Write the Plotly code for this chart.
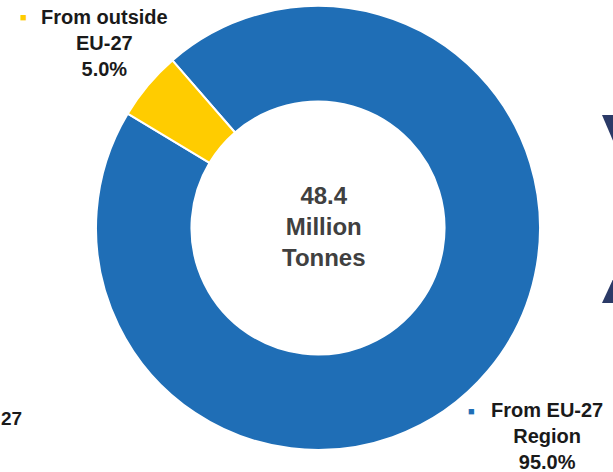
import plotly.graph_objects as go

# Origin of supply, share of total tonnage
categories = ["From EU-27 Region", "From outside EU-27"]
label_lines = ["From EU-27<br>Region", "From outside<br>EU-27"]
shares = [95.0, 5.0]
total_mt = 48.4
colors = ["#1F6EB6", "#FFCC00"]

W, H = 613, 472


def px(x):
    return x / W


def py(y):
    return 1 - y / H


fig = go.Figure(
    go.Pie(
        labels=categories,
        values=shares,
        sort=False,
        direction="clockwise",
        rotation=-41,
        hole=0.57,
        textinfo="none",
        hoverinfo="label+percent",
        marker=dict(colors=colors, line=dict(color="white", width=2)),
        domain=dict(x=[px(318 - 222), px(318 + 222)], y=[py(228 + 222), py(228 - 222)]),
        showlegend=False,
    )
)

label_font = dict(family="Liberation Sans, Arial, sans-serif", size=20, color="#1a1a1a")
annotations = [
    # centre total
    dict(
        x=px(324), y=py(226),
        text=f"<b>{total_mt:.1f}<br>Million<br>Tonnes</b>",
        font=dict(family="Liberation Sans, Arial, sans-serif", size=24, color="#404040"),
    ),
    # outside EU-27 label
    dict(
        x=px(104), y=py(43),
        text=f"<b>{label_lines[1]}<br>{shares[1]:.1f}%</b>",
        font=label_font,
    ),
    dict(x=px(24), y=py(16), text="■", font=dict(size=11, color=colors[1])),
    # EU-27 label
    dict(
        x=px(547), y=py(436),
        text=f"<b>{label_lines[0]}<br>{shares[0]:.1f}%</b>",
        font=label_font,
    ),
    dict(x=px(471), y=py(410), text="■", font=dict(size=11, color=colors[0])),
    # neighbouring label cut at the left edge
    dict(
        x=px(24), y=py(418), xanchor="right",
        text="<b>27</b>",
        font=dict(family="Liberation Sans, Arial, sans-serif", size=19, color="#1a1a1a"),
    ),
]
for a in annotations:
    a.setdefault("xanchor", "center")
    a.update(xref="paper", yref="paper", yanchor="middle", showarrow=False, align="center")

navy = "#2B3A67"
shapes = [
    dict(type="path", xref="paper", yref="paper",
         path=f"M {px(602)} {py(115)} L {px(614)} {py(115)} L {px(614)} {py(143)} Z",
         fillcolor=navy, line=dict(width=0)),
    dict(type="path", xref="paper", yref="paper",
         path=f"M {px(614)} {py(277)} L {px(602)} {py(303)} L {px(614)} {py(303)} Z",
         fillcolor=navy, line=dict(width=0)),
]

fig.update_layout(
    width=W, height=H,
    margin=dict(l=0, r=0, t=0, b=0),
    paper_bgcolor="white",
    plot_bgcolor="white",
    annotations=annotations,
    shapes=shapes,
)

fig.write_html("out.html")
